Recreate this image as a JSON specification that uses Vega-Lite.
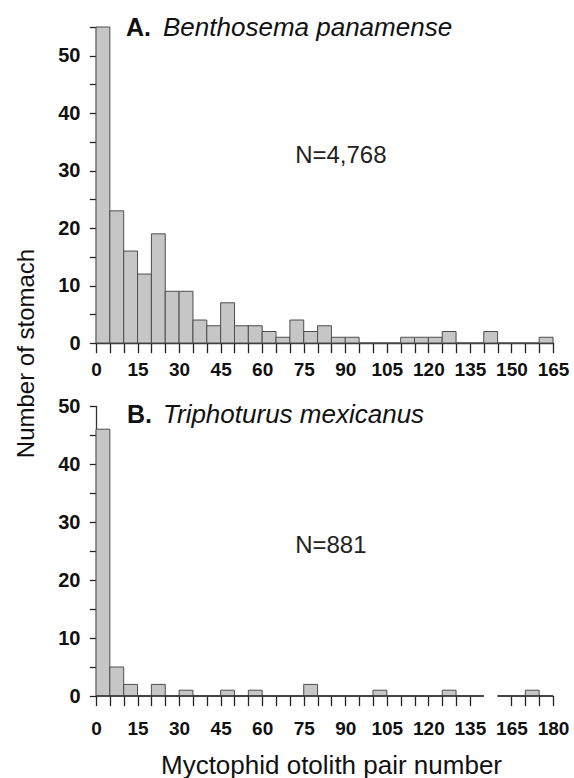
{
  "$schema": "https://vega.github.io/schema/vega-lite/v6.json",
  "background": "white",
  "padding": {"left": 14, "top": 14, "right": 4, "bottom": 1},
  "bounds": "flush",
  "spacing": 63,
  "config": {
    "font": "Liberation Sans",
    "view": {"stroke": null},
    "axis": {
      "grid": false,
      "ticks": true,
      "zindex": 1,
      "domainColor": "#333333",
      "domainWidth": 1.3,
      "tickColor": "#222222",
      "tickWidth": 1.3,
      "tickOpacity": 1,
      "tickCap": "square",
      "tickOffset": 0,
      "tickDash": [],
      "tickBand": "center",
      "labelColor": "#111111",
      "titleColor": "#111111",
      "labelFont": "Liberation Sans",
      "labelFontWeight": "bold",
      "titleFont": "Liberation Sans",
      "titleFontWeight": "normal",
      "labelFlush": false,
      "labelOverlap": false
    }
  },
  "datasets": {
    "benthosema": [
      {"start": 0, "end": 5, "count": 55},
      {"start": 5, "end": 10, "count": 23},
      {"start": 10, "end": 15, "count": 16},
      {"start": 15, "end": 20, "count": 12},
      {"start": 20, "end": 25, "count": 19},
      {"start": 25, "end": 30, "count": 9},
      {"start": 30, "end": 35, "count": 9},
      {"start": 35, "end": 40, "count": 4},
      {"start": 40, "end": 45, "count": 3},
      {"start": 45, "end": 50, "count": 7},
      {"start": 50, "end": 55, "count": 3},
      {"start": 55, "end": 60, "count": 3},
      {"start": 60, "end": 65, "count": 2},
      {"start": 65, "end": 70, "count": 1},
      {"start": 70, "end": 75, "count": 4},
      {"start": 75, "end": 80, "count": 2},
      {"start": 80, "end": 85, "count": 3},
      {"start": 85, "end": 90, "count": 1},
      {"start": 90, "end": 95, "count": 1},
      {"start": 95, "end": 100, "count": 0},
      {"start": 100, "end": 105, "count": 0},
      {"start": 105, "end": 110, "count": 0},
      {"start": 110, "end": 115, "count": 1},
      {"start": 115, "end": 120, "count": 1},
      {"start": 120, "end": 125, "count": 1},
      {"start": 125, "end": 130, "count": 2},
      {"start": 130, "end": 135, "count": 0},
      {"start": 135, "end": 140, "count": 0},
      {"start": 140, "end": 145, "count": 2},
      {"start": 145, "end": 150, "count": 0},
      {"start": 150, "end": 155, "count": 0},
      {"start": 155, "end": 160, "count": 0},
      {"start": 160, "end": 165, "count": 1}
    ],
    "triphoturus": [
      {"start": 0, "end": 5, "count": 46},
      {"start": 5, "end": 10, "count": 5},
      {"start": 10, "end": 15, "count": 2},
      {"start": 15, "end": 20, "count": 0},
      {"start": 20, "end": 25, "count": 2},
      {"start": 25, "end": 30, "count": 0},
      {"start": 30, "end": 35, "count": 1},
      {"start": 35, "end": 40, "count": 0},
      {"start": 40, "end": 45, "count": 0},
      {"start": 45, "end": 50, "count": 1},
      {"start": 50, "end": 55, "count": 0},
      {"start": 55, "end": 60, "count": 1},
      {"start": 60, "end": 65, "count": 0},
      {"start": 65, "end": 70, "count": 0},
      {"start": 70, "end": 75, "count": 0},
      {"start": 75, "end": 80, "count": 2},
      {"start": 80, "end": 85, "count": 0},
      {"start": 85, "end": 90, "count": 0},
      {"start": 90, "end": 95, "count": 0},
      {"start": 95, "end": 100, "count": 0},
      {"start": 100, "end": 105, "count": 1},
      {"start": 105, "end": 110, "count": 0},
      {"start": 110, "end": 115, "count": 0},
      {"start": 115, "end": 120, "count": 0},
      {"start": 120, "end": 125, "count": 0},
      {"start": 125, "end": 130, "count": 1},
      {"start": 130, "end": 135, "count": 0},
      {"start": 135, "end": 140, "count": 0},
      {"start": 160, "end": 165, "count": 0},
      {"start": 165, "end": 170, "count": 0},
      {"start": 170, "end": 175, "count": 1},
      {"start": 175, "end": 180, "count": 0}
    ],
    "axisSegments": [
      {"from": 0, "to": 140},
      {"from": 160, "to": 180}
    ]
  },
  "vconcat": [
    {
      "width": 457,
      "height": 316,
      "layer": [
        {
          "data": {"name": "benthosema"},
          "mark": {"type": "bar", "fill": "#c6c6c6", "stroke": "#4d4d4d", "strokeWidth": 1},
          "encoding": {
            "x": {
              "field": "start",
              "type": "quantitative",
              "scale": {"domain": [0, 165], "nice": false, "zero": false},
              "axis": {"title": null, "values": [0, 5, 10, 15, 20, 25, 30, 35, 40, 45, 50, 55, 60, 65, 70, 75, 80, 85, 90, 95, 100, 105, 110, 115, 120, 125, 130, 135, 140, 145, 150, 155, 160, 165], "labelExpr": "datum.value % 15 === 0 ? datum.label : ''", "ticks": true, "tickSize": 9, "tickColor": "#222222", "tickWidth": 1.3, "labelFontSize": 19, "labelPadding": 8, "labelOverlap": false, "labelFlush": false}
            },
            "x2": {"field": "end"},
            "y": {
              "field": "count",
              "type": "quantitative",
              "scale": {"domain": [0, 55], "nice": false},
              "axis": {"values": [0, 5, 10, 15, 20, 25, 30, 35, 40, 45, 50, 55], "labelExpr": "datum.value % 10 === 0 ? datum.label : ''", "ticks": true, "tickSize": 6, "tickColor": "#222222", "tickWidth": 1.3, "labelFontSize": 20, "labelPadding": 10, "labelOverlap": false, "title": "Number of stomach", "titleFontSize": 24, "titleX": -63, "titleY": 326, "titleBaseline": "alphabetic"}
            },
            "y2": {"datum": 0}
          }
        },
        {
          "data": {"values": [{}]},
          "mark": {"type": "text", "text": "A.", "font": "Liberation Sans", "fontWeight": "bold", "fontSize": 25, "align": "left", "baseline": "middle", "color": "#111111"},
          "encoding": {
            "x": {"datum": 10.8, "type": "quantitative", "axis": {"title": null, "values": [0, 5, 10, 15, 20, 25, 30, 35, 40, 45, 50, 55, 60, 65, 70, 75, 80, 85, 90, 95, 100, 105, 110, 115, 120, 125, 130, 135, 140, 145, 150, 155, 160, 165], "labelExpr": "datum.value % 15 === 0 ? datum.label : ''", "ticks": true, "tickSize": 9, "tickColor": "#222222", "tickWidth": 1.3, "labelFontSize": 19, "labelPadding": 8, "labelOverlap": false, "labelFlush": false}},
            "y": {"datum": 54.9, "type": "quantitative", "axis": {"values": [0, 5, 10, 15, 20, 25, 30, 35, 40, 45, 50, 55], "labelExpr": "datum.value % 10 === 0 ? datum.label : ''", "ticks": true, "tickSize": 6, "tickColor": "#222222", "tickWidth": 1.3, "labelFontSize": 20, "labelPadding": 10, "labelOverlap": false, "title": "Number of stomach", "titleFontSize": 24, "titleX": -63, "titleY": 326, "titleBaseline": "alphabetic"}}
          }
        },
        {
          "data": {"values": [{}]},
          "mark": {"type": "text", "text": "Benthosema panamense", "font": "Liberation Sans", "fontStyle": "italic", "fontSize": 26, "align": "left", "baseline": "middle", "color": "#111111"},
          "encoding": {
            "x": {"datum": 24.2, "type": "quantitative", "axis": {"title": null, "values": [0, 5, 10, 15, 20, 25, 30, 35, 40, 45, 50, 55, 60, 65, 70, 75, 80, 85, 90, 95, 100, 105, 110, 115, 120, 125, 130, 135, 140, 145, 150, 155, 160, 165], "labelExpr": "datum.value % 15 === 0 ? datum.label : ''", "ticks": true, "tickSize": 9, "tickColor": "#222222", "tickWidth": 1.3, "labelFontSize": 19, "labelPadding": 8, "labelOverlap": false, "labelFlush": false}},
            "y": {"datum": 54.9, "type": "quantitative", "axis": {"values": [0, 5, 10, 15, 20, 25, 30, 35, 40, 45, 50, 55], "labelExpr": "datum.value % 10 === 0 ? datum.label : ''", "ticks": true, "tickSize": 6, "tickColor": "#222222", "tickWidth": 1.3, "labelFontSize": 20, "labelPadding": 10, "labelOverlap": false, "title": "Number of stomach", "titleFontSize": 24, "titleX": -63, "titleY": 326, "titleBaseline": "alphabetic"}}
          }
        },
        {
          "data": {"values": [{}]},
          "mark": {"type": "text", "text": "N=4,768", "font": "Liberation Sans", "fontSize": 24, "align": "center", "baseline": "middle", "color": "#222222"},
          "encoding": {
            "x": {"datum": 88.4, "type": "quantitative", "axis": {"title": null, "values": [0, 5, 10, 15, 20, 25, 30, 35, 40, 45, 50, 55, 60, 65, 70, 75, 80, 85, 90, 95, 100, 105, 110, 115, 120, 125, 130, 135, 140, 145, 150, 155, 160, 165], "labelExpr": "datum.value % 15 === 0 ? datum.label : ''", "ticks": true, "tickSize": 9, "tickColor": "#222222", "tickWidth": 1.3, "labelFontSize": 19, "labelPadding": 8, "labelOverlap": false, "labelFlush": false}},
            "y": {"datum": 32.6, "type": "quantitative", "axis": {"values": [0, 5, 10, 15, 20, 25, 30, 35, 40, 45, 50, 55], "labelExpr": "datum.value % 10 === 0 ? datum.label : ''", "ticks": true, "tickSize": 6, "tickColor": "#222222", "tickWidth": 1.3, "labelFontSize": 20, "labelPadding": 10, "labelOverlap": false, "title": "Number of stomach", "titleFontSize": 24, "titleX": -63, "titleY": 326, "titleBaseline": "alphabetic"}}
          }
        }
      ]
    },
    {
      "width": 457,
      "height": 290,
      "layer": [
        {
          "data": {"name": "triphoturus"},
          "mark": {"type": "bar", "fill": "#c6c6c6", "stroke": "#4d4d4d", "strokeWidth": 1},
          "encoding": {
            "x": {
              "field": "start",
              "type": "quantitative",
              "scale": {"domain": [0, 140, 160, 180], "range": [0, 387.75, 401.6, 457], "nice": false, "zero": false},
              "axis": {"title": "Myctophid otolith pair number", "domain": false, "values": [0, 5, 10, 15, 20, 25, 30, 35, 40, 45, 50, 55, 60, 65, 70, 75, 80, 85, 90, 95, 100, 105, 110, 115, 120, 125, 130, 135, 165, 170, 175, 180], "labelExpr": "datum.value % 15 === 0 ? datum.label : ''", "ticks": true, "tickSize": 9, "tickColor": "#222222", "tickWidth": 1.3, "labelFontSize": 19, "labelPadding": 14, "labelOverlap": false, "labelFlush": false, "titleFontSize": 26, "titleX": 235, "titleY": 77, "titleBaseline": "alphabetic"}
            },
            "x2": {"field": "end"},
            "y": {
              "field": "count",
              "type": "quantitative",
              "scale": {"domain": [0, 50], "nice": false},
              "axis": {"title": null, "values": [0, 5, 10, 15, 20, 25, 30, 35, 40, 45, 50], "labelExpr": "datum.value % 10 === 0 ? datum.label : ''", "ticks": true, "tickSize": 6, "tickColor": "#222222", "tickWidth": 1.3, "labelFontSize": 20, "labelPadding": 10, "labelOverlap": false}
            },
            "y2": {"datum": 0}
          }
        },
        {
          "data": {"name": "axisSegments"},
          "mark": {"type": "rule", "color": "#333333", "strokeWidth": 1.3},
          "encoding": {
            "x": {"field": "from", "type": "quantitative", "axis": {"title": "Myctophid otolith pair number", "domain": false, "values": [0, 5, 10, 15, 20, 25, 30, 35, 40, 45, 50, 55, 60, 65, 70, 75, 80, 85, 90, 95, 100, 105, 110, 115, 120, 125, 130, 135, 165, 170, 175, 180], "labelExpr": "datum.value % 15 === 0 ? datum.label : ''", "ticks": true, "tickSize": 9, "tickColor": "#222222", "tickWidth": 1.3, "labelFontSize": 19, "labelPadding": 14, "labelOverlap": false, "labelFlush": false, "titleFontSize": 26, "titleX": 235, "titleY": 77, "titleBaseline": "alphabetic"}},
            "x2": {"field": "to"},
            "y": {"datum": 0, "type": "quantitative", "axis": {"title": null, "values": [0, 5, 10, 15, 20, 25, 30, 35, 40, 45, 50], "labelExpr": "datum.value % 10 === 0 ? datum.label : ''", "ticks": true, "tickSize": 6, "tickColor": "#222222", "tickWidth": 1.3, "labelFontSize": 20, "labelPadding": 10, "labelOverlap": false}}
          }
        },
        {
          "data": {"values": [{}]},
          "mark": {"type": "text", "text": "B.", "font": "Liberation Sans", "fontWeight": "bold", "fontSize": 25, "align": "left", "baseline": "middle", "color": "#111111"},
          "encoding": {
            "x": {"datum": 11.2, "type": "quantitative", "axis": {"title": "Myctophid otolith pair number", "domain": false, "values": [0, 5, 10, 15, 20, 25, 30, 35, 40, 45, 50, 55, 60, 65, 70, 75, 80, 85, 90, 95, 100, 105, 110, 115, 120, 125, 130, 135, 165, 170, 175, 180], "labelExpr": "datum.value % 15 === 0 ? datum.label : ''", "ticks": true, "tickSize": 9, "tickColor": "#222222", "tickWidth": 1.3, "labelFontSize": 19, "labelPadding": 14, "labelOverlap": false, "labelFlush": false, "titleFontSize": 26, "titleX": 235, "titleY": 77, "titleBaseline": "alphabetic"}},
            "y": {"datum": 48.4, "type": "quantitative", "axis": {"title": null, "values": [0, 5, 10, 15, 20, 25, 30, 35, 40, 45, 50], "labelExpr": "datum.value % 10 === 0 ? datum.label : ''", "ticks": true, "tickSize": 6, "tickColor": "#222222", "tickWidth": 1.3, "labelFontSize": 20, "labelPadding": 10, "labelOverlap": false}}
          }
        },
        {
          "data": {"values": [{}]},
          "mark": {"type": "text", "text": "Triphoturus mexicanus", "font": "Liberation Sans", "fontStyle": "italic", "fontSize": 26, "align": "left", "baseline": "middle", "color": "#111111"},
          "encoding": {
            "x": {"datum": 24.2, "type": "quantitative", "axis": {"title": "Myctophid otolith pair number", "domain": false, "values": [0, 5, 10, 15, 20, 25, 30, 35, 40, 45, 50, 55, 60, 65, 70, 75, 80, 85, 90, 95, 100, 105, 110, 115, 120, 125, 130, 135, 165, 170, 175, 180], "labelExpr": "datum.value % 15 === 0 ? datum.label : ''", "ticks": true, "tickSize": 9, "tickColor": "#222222", "tickWidth": 1.3, "labelFontSize": 19, "labelPadding": 14, "labelOverlap": false, "labelFlush": false, "titleFontSize": 26, "titleX": 235, "titleY": 77, "titleBaseline": "alphabetic"}},
            "y": {"datum": 48.4, "type": "quantitative", "axis": {"title": null, "values": [0, 5, 10, 15, 20, 25, 30, 35, 40, 45, 50], "labelExpr": "datum.value % 10 === 0 ? datum.label : ''", "ticks": true, "tickSize": 6, "tickColor": "#222222", "tickWidth": 1.3, "labelFontSize": 20, "labelPadding": 10, "labelOverlap": false}}
          }
        },
        {
          "data": {"values": [{}]},
          "mark": {"type": "text", "text": "N=881", "font": "Liberation Sans", "fontSize": 24, "align": "center", "baseline": "middle", "color": "#222222"},
          "encoding": {
            "x": {"datum": 84.8, "type": "quantitative", "axis": {"title": "Myctophid otolith pair number", "domain": false, "values": [0, 5, 10, 15, 20, 25, 30, 35, 40, 45, 50, 55, 60, 65, 70, 75, 80, 85, 90, 95, 100, 105, 110, 115, 120, 125, 130, 135, 165, 170, 175, 180], "labelExpr": "datum.value % 15 === 0 ? datum.label : ''", "ticks": true, "tickSize": 9, "tickColor": "#222222", "tickWidth": 1.3, "labelFontSize": 19, "labelPadding": 14, "labelOverlap": false, "labelFlush": false, "titleFontSize": 26, "titleX": 235, "titleY": 77, "titleBaseline": "alphabetic"}},
            "y": {"datum": 25.9, "type": "quantitative", "axis": {"title": null, "values": [0, 5, 10, 15, 20, 25, 30, 35, 40, 45, 50], "labelExpr": "datum.value % 10 === 0 ? datum.label : ''", "ticks": true, "tickSize": 6, "tickColor": "#222222", "tickWidth": 1.3, "labelFontSize": 20, "labelPadding": 10, "labelOverlap": false}}
          }
        }
      ]
    }
  ]
}
